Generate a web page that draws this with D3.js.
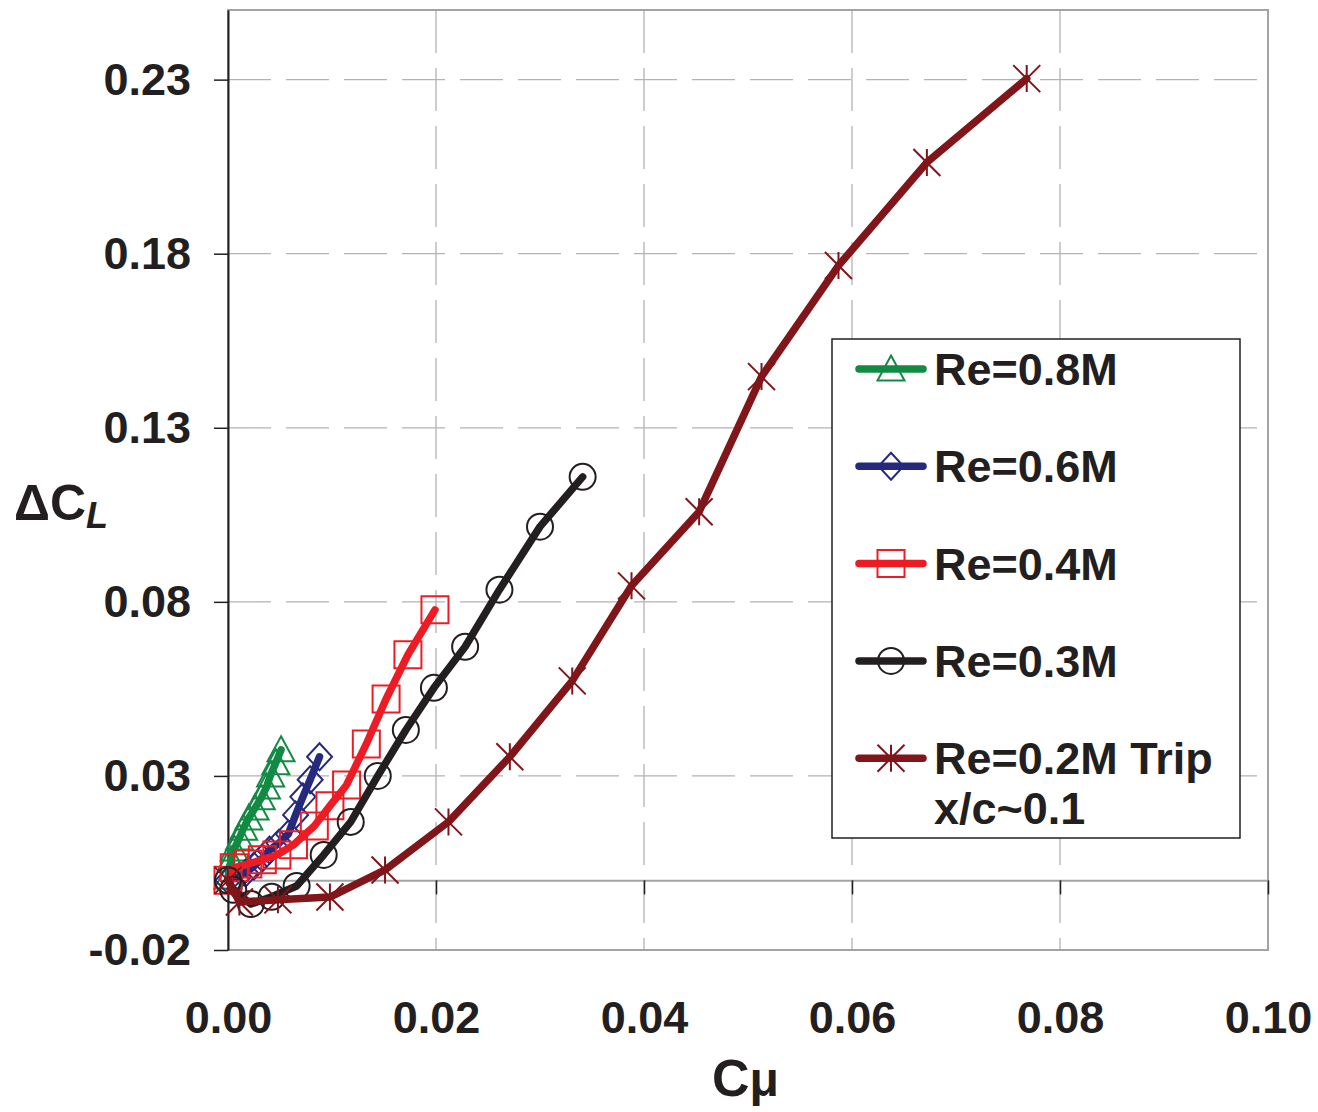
<!DOCTYPE html>
<html>
<head>
<meta charset="utf-8">
<script src="https://cdn.jsdelivr.net/npm/d3@7"></script>
<style>
  body { margin: 0; background: #fff; }
  text { font-family: "Liberation Sans", Arial, Helvetica, sans-serif; font-weight: bold; fill: #231f20; }
</style>
</head>
<body>
<div id="chart"></div>
<script>
// Cmu values and delta CL for each Reynolds number
const re08_x = [0, 0.0003, 0.0006, 0.0011, 0.0015, 0.0020, 0.0026, 0.0032, 0.0037, 0.0041, 0.0046, 0.0051];
const re08_y = [0.001, 0.0059, 0.0090, 0.0122, 0.0150, 0.0179, 0.0208, 0.0237, 0.0268, 0.0303, 0.0338, 0.0375];

const re06_x = [0, 0.0010, 0.0017, 0.0025, 0.0033, 0.0040, 0.0049, 0.0058, 0.0065, 0.0072, 0.0079, 0.0088];
const re06_y = [0, 0.0010, 0.0021, 0.0041, 0.0064, 0.0087, 0.0107, 0.0133, 0.0188, 0.0240, 0.0289, 0.0355];

const re04_x = [0, 0.0006, 0.0019, 0.0033, 0.0047, 0.0063, 0.0083, 0.0098, 0.0114, 0.0133, 0.0152, 0.0173, 0.0199];
const re04_y = [0, 0.0036, 0.0047, 0.0059, 0.0073, 0.0102, 0.0156, 0.0214, 0.0274, 0.0392, 0.0521, 0.0648, 0.0777];

const re03_x = [0, 0.0005, 0.0022, 0.0042, 0.0066, 0.0092, 0.0118, 0.0144, 0.0171, 0.0198, 0.0228, 0.0261, 0.0300, 0.0341];
const re03_y = [0, -0.0027, -0.0068, -0.0047, -0.0016, 0.0073, 0.0168, 0.0300, 0.0432, 0.0553, 0.0671, 0.0835, 0.1016, 0.1159];

const re02_x = [0, 0.0011, 0.0048, 0.0098, 0.0151, 0.0212, 0.0271, 0.0331, 0.0388, 0.0453, 0.0513, 0.0587, 0.0672, 0.0768];
const re02_y = [0, -0.0062, -0.0056, -0.0048, 0.0030, 0.0168, 0.0355, 0.0573, 0.0846, 0.1059, 0.1447, 0.1766, 0.2062, 0.2303];

const seriesNames = ["Re=0.8M", "Re=0.6M", "Re=0.4M", "Re=0.3M", "Re=0.2M Trip"];
const xTicks = [0, 0.02, 0.04, 0.06, 0.08, 0.10];
const yTicks = [-0.02, 0.03, 0.08, 0.13, 0.18, 0.23];

const series = [
    { name: seriesNames[0], xs: re08_x, ys: re08_y, color: "#138a43", marker: "triangle" },
    { name: seriesNames[1], xs: re06_x, ys: re06_y, color: "#262a7e", marker: "diamond" },
    { name: seriesNames[2], xs: re04_x, ys: re04_y, color: "#ed1c24", marker: "square" },
    { name: seriesNames[3], xs: re03_x, ys: re03_y, color: "#231f20", marker: "circle" },
    { name: seriesNames[4], xs: re02_x, ys: re02_y, color: "#80151a", marker: "star" }
];

const margin = { top: 10, right: 50, bottom: 162, left: 228 },
    width = 1040,
    height = 940;

const svg = d3.select("#chart")
    .append("svg")
    .attr("width", width + margin.left + margin.right)
    .attr("height", height + margin.top + margin.bottom)
    .append("g")
    .attr("transform", `translate(${margin.left}, ${margin.top})`);

const x = d3.scaleLinear().domain([0, 0.10]).range([0, width]);
const y = d3.scaleLinear().domain([-0.02, 0.25]).range([height, 0]);

/* grid */
svg.append("g").selectAll("line")
    .data(xTicks.slice(1, -1))
    .enter().append("line")
    .attr("x1", d => x(d)).attr("x2", d => x(d))
    .attr("y1", 0).attr("y2", height)
    .attr("stroke", "#b3b3b3").attr("stroke-width", 1.3)
    .attr("stroke-dasharray", "43,15");

svg.append("g").selectAll("line")
    .data(yTicks.slice(1))
    .enter().append("line")
    .attr("x1", 0).attr("x2", width)
    .attr("y1", d => y(d)).attr("y2", d => y(d))
    .attr("stroke", "#b3b3b3").attr("stroke-width", 1.3)
    .attr("stroke-dasharray", "43,15");

/* frame */
svg.append("rect")
    .attr("width", width).attr("height", height)
    .attr("fill", "none")
    .attr("stroke", "#a3a3a3").attr("stroke-width", 2);

/* x axis at zero */
const xAxis = svg.append("g")
    .attr("transform", `translate(0, ${y(0)})`)
    .call(d3.axisBottom(x).tickValues(xTicks).tickSize(14).tickSizeOuter(0).tickFormat(""));
xAxis.select(".domain").attr("stroke", "#a3a3a3").attr("stroke-width", 2);
xAxis.selectAll(".tick line").attr("stroke", "#231f20").attr("stroke-width", 1.5);

/* x labels under plot */
const xLab = svg.append("g")
    .attr("transform", `translate(0, ${height})`)
    .call(d3.axisBottom(x).tickValues(xTicks).tickSize(0).tickPadding(51).tickFormat(d => d.toFixed(2)));
xLab.select(".domain").remove();
xLab.selectAll("text").attr("font-size", 45).attr("font-family", null).attr("fill", "#231f20");

/* y axis */
const yAxis = svg.append("g")
    .call(d3.axisLeft(y).tickValues(yTicks).tickSize(14).tickSizeOuter(0).tickPadding(23).tickFormat(d => d.toFixed(2)));
yAxis.select(".domain").attr("stroke", "#231f20").attr("stroke-width", 2);
yAxis.selectAll(".tick line").attr("stroke", "#231f20").attr("stroke-width", 1.5);
yAxis.selectAll("text").attr("font-size", 45).attr("font-family", null).attr("fill", "#231f20");

/* axis titles */
svg.append("text")
    .attr("x", width / 2 - 36)
    .attr("y", height + 146)
    .attr("font-size", 52)
    .text("C")
    .append("tspan")
    .attr("font-size", 48)
    .text("\u03bc");

const yt = svg.append("text")
    .attr("x", -214)
    .attr("y", 520 - margin.top)
    .attr("font-size", 50);
yt.append("tspan").text("\u0394C");
yt.append("tspan").attr("font-style", "italic").attr("font-size", 36).attr("dy", 8).text("L");

/* markers */
function markerPath(type) {
    const s = 13.5;
    if (type === "triangle") return `M0,${-s} L${s},${s - 2} L${-s},${s - 2} Z`;
    if (type === "diamond") return `M0,${-s} L${s - 1},0 L0,${s} L${-s + 1},0 Z`;
    if (type === "square") return `M${-s},${-s} H${s} V${s} H${-s} Z`;
    if (type === "circle") return d3.symbol(d3.symbolCircle, Math.PI * 13 * 13)();
    return `M0,${-s} V${s} M${-s},${-s} L${s},${s} M${s},${-s} L${-s},${s}`;
}

const line = d3.line()
    .x(d => x(d[0]))
    .y(d => y(d[1]));

series.forEach(s => {
    const pts = s.xs.map((v, i) => [v, s.ys[i]]);
    svg.append("path")
        .datum(pts)
        .attr("d", line)
        .attr("fill", "none")
        .attr("stroke", s.color)
        .attr("stroke-width", 7.5)
        .attr("stroke-linecap", "round")
        .attr("stroke-linejoin", "round");
    svg.append("g").selectAll("path")
        .data(pts)
        .enter().append("path")
        .attr("transform", d => `translate(${x(d[0])}, ${y(d[1])})`)
        .attr("d", markerPath(s.marker))
        .attr("fill", "none")
        .attr("stroke", s.color)
        .attr("stroke-width", 2);
});

/* legend */
const lg = svg.append("g").attr("transform", `translate(${832 - margin.left}, ${339 - margin.top})`);
lg.append("rect")
    .attr("width", 408).attr("height", 499)
    .attr("fill", "#fff")
    .attr("stroke", "#231f20").attr("stroke-width", 1.5);

series.forEach((s, i) => {
    const cy = 30 + i * 97.3;
    lg.append("line")
        .attr("x1", 27).attr("x2", 91)
        .attr("y1", cy).attr("y2", cy)
        .attr("stroke", s.color).attr("stroke-width", 7.5)
        .attr("stroke-linecap", "round");
    lg.append("path")
        .attr("transform", `translate(59, ${cy})`)
        .attr("d", markerPath(s.marker))
        .attr("fill", "none")
        .attr("stroke", s.color).attr("stroke-width", 2);
    lg.append("text")
        .attr("x", 102).attr("y", cy + 16)
        .attr("font-size", 45)
        .text(s.name);
});
lg.append("text")
    .attr("x", 102).attr("y", 30 + 4 * 97.3 + 66)
    .attr("font-size", 45)
    .text("x/c~0.1");
</script>
</body>
</html>
